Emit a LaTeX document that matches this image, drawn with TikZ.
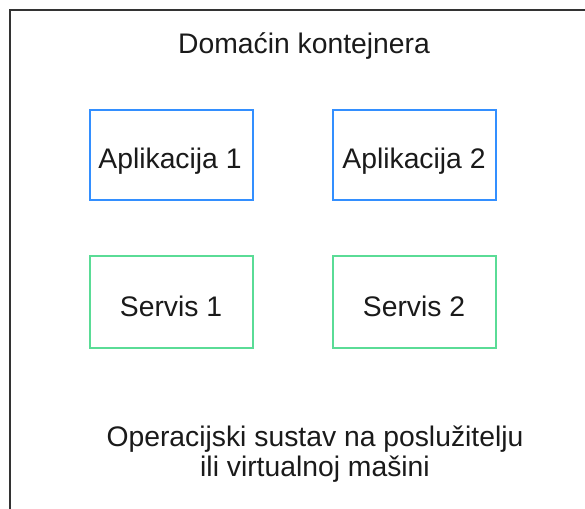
\documentclass[tikz,border=0pt]{standalone}
\usepackage{fontspec}
\setmainfont{Liberation Sans}
\definecolor{outerc}{RGB}{51,51,51}
\definecolor{appc}{RGB}{51,143,255}
\definecolor{svcc}{RGB}{90,220,150}
\definecolor{txtc}{RGB}{26,26,26}
\begin{document}
\begin{tikzpicture}[x=1pt,y=-1pt,
  lbl/.style={font=\fontsize{28.3}{30}\selectfont, text=txtc, inner sep=0pt},
  appbox/.style={draw=appc, line width=2pt, minimum width=163pt, minimum height=90pt, inner sep=0pt},
  svcbox/.style={draw=svcc, line width=2pt, minimum width=163pt, minimum height=92pt, inner sep=0pt}]
\useasboundingbox (0,0) rectangle (585,508);
\clip (0,0) rectangle (585,508);
\draw[outerc, line width=2pt] (10,600) -- (10,10) -- (700,10);
\node[lbl, anchor=base] (title) at (304,54) {Domaćin kontejnera};
\node[appbox] (app1) at (171.5,155) {};
\node[appbox] (app2) at (414,155) {};
\node[svcbox] (svc1) at (171.5,302) {};
\node[svcbox] (svc2) at (414,302) {};
\node[lbl, anchor=base] (t1) at (170,168.3) {Aplikacija 1};
\node[lbl, anchor=base] (t2) at (414,168.3) {Aplikacija 2};
\node[lbl, anchor=base] (t3) at (171,316.7) {Servis 1};
\node[lbl, anchor=base] (t4) at (414,316.7) {Servis 2};
\node[lbl, align=center, anchor=north] (os) at (315,426) {Operacijski sustav na poslužitelju\\ili virtualnoj mašini};
\end{tikzpicture}
\end{document}
